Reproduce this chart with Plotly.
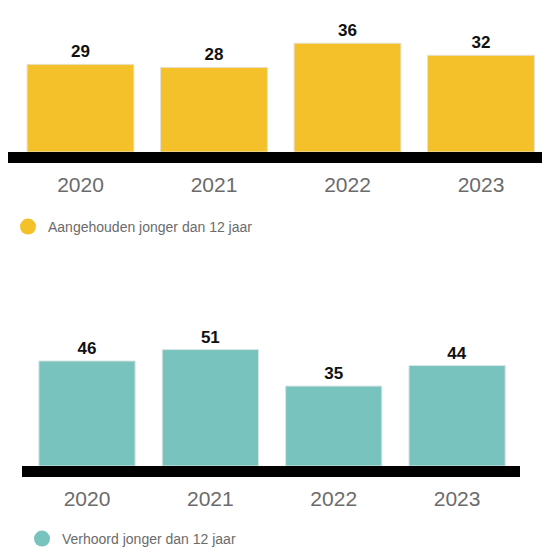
import plotly.graph_objects as go

W, H = 542, 550

years = ["2020", "2021", "2022", "2023"]
aangehouden = [29, 28, 36, 32]
verhoord = [46, 51, 35, 44]
label_top = "Aangehouden jonger dan 12 jaar"
label_bottom = "Verhoord jonger dan 12 jaar"

YELLOW = "#F4C12B"
TEAL = "#79C3BF"
FONT = "Liberation Sans, Arial"


def px_x(p):
    return p / W


def px_y(p):
    return 1 - p / H


fig = go.Figure()

fig.add_trace(go.Bar(
    x=years, y=aangehouden, xaxis="x", yaxis="y", width=0.8,
    marker=dict(color=YELLOW, line=dict(color="#e6e0d0", width=1)),
    text=aangehouden, texttemplate="<b>%{text}</b>", textposition="outside",
    cliponaxis=False, textfont=dict(family=FONT, size=17, color="#111"),
    showlegend=False,
))
fig.add_trace(go.Scatter(
    x=[None], y=[None], xaxis="x", yaxis="y", mode="markers", name=label_top,
    marker=dict(color=YELLOW, size=22, symbol="circle"), legend="legend",
))

fig.add_trace(go.Bar(
    x=years, y=verhoord, xaxis="x2", yaxis="y2", width=0.78,
    marker=dict(color=TEAL, line=dict(color="#d8e4e3", width=1)),
    text=verhoord, texttemplate="<b>%{text}</b>", textposition="outside",
    cliponaxis=False, textfont=dict(family=FONT, size=17, color="#111"),
    showlegend=False,
))
fig.add_trace(go.Scatter(
    x=[None], y=[None], xaxis="x2", yaxis="y2", mode="markers", name=label_bottom,
    marker=dict(color=TEAL, size=22, symbol="circle"), legend="legend2",
))

tickfont = dict(family=FONT, size=21, color="#6b6b6b")
xcommon = dict(
    type="category", showgrid=False, zeroline=False, showline=True,
    linecolor="black", linewidth=11, ticks="outside", ticklen=4,
    tickcolor="rgba(0,0,0,0)", tickfont=tickfont, fixedrange=True,
)
ycommon = dict(visible=False, showgrid=False, zeroline=False, fixedrange=True)
legfont = dict(family=FONT, size=14, color="#6b6b6b")

fig.update_layout(
    width=W, height=H,
    # no auto-expanding: the bottom legend sits on the edge of the page
    margin=dict(l=0, r=0, t=0, b=0, autoexpand=False),
    paper_bgcolor="white", plot_bgcolor="white",
    xaxis=dict(domain=[px_x(8), 1], range=[-0.543, 3.457], anchor="y", **xcommon),
    yaxis=dict(domain=[px_y(152), px_y(16)], range=[0, 45], anchor="x", **ycommon),
    xaxis2=dict(domain=[px_x(22), px_x(520)], range=[-0.527, 3.51], anchor="y2", **xcommon),
    yaxis2=dict(domain=[px_y(466), px_y(329)], range=[0, 60], anchor="x2", **ycommon),
    legend=dict(x=px_x(8), y=px_y(227), xanchor="left", yanchor="middle",
                font=legfont, bgcolor="rgba(0,0,0,0)", itemsizing="trace"),
    legend2=dict(x=px_x(22), y=px_y(539), xanchor="left", yanchor="middle",
                 font=legfont, bgcolor="rgba(0,0,0,0)", itemsizing="trace"),
)

# drop the default body margin so the figure fills the window exactly
fig.write_html(
    "out.html",
    config={"displayModeBar": False},
    post_script="document.body.style.margin = '0';",
)
